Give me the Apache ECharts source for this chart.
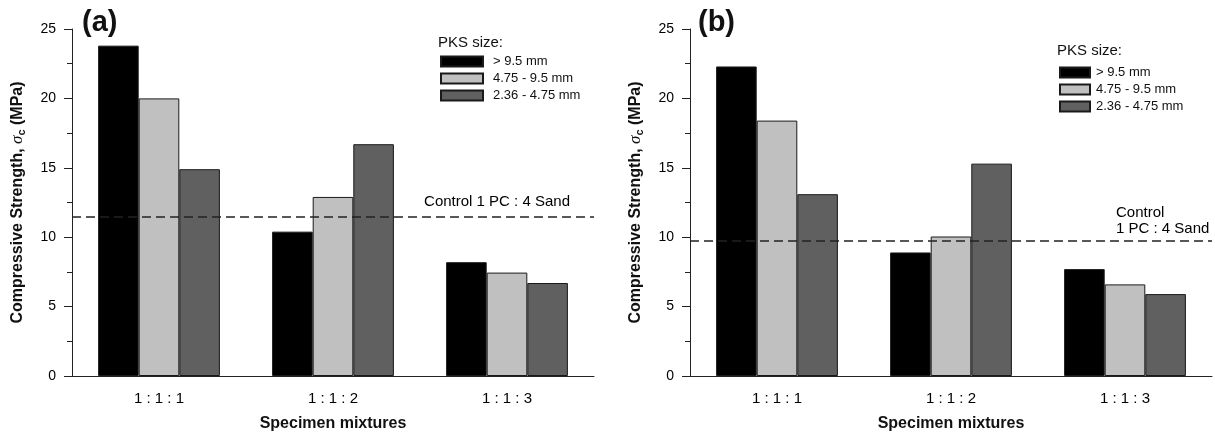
<!DOCTYPE html>
<html><head><meta charset="utf-8">
<script src="https://cdn.jsdelivr.net/npm/echarts@6/dist/echarts.min.js"></script>
<style>html,body{margin:0;padding:0;background:#fff}#c{width:1215px;height:439px}</style>
</head><body><div id="c"></div>
<script>
const categories = ['1 : 1 : 1', '1 : 1 : 2', '1 : 1 : 3'];
const seriesNames = ['> 9.5 mm', '4.75 - 9.5 mm', '2.36 - 4.75 mm'];
const a_big = [23.8, 10.4, 8.2];
const a_mid = [20.0, 12.9, 7.45];
const a_small = [14.9, 16.7, 6.7];
const a_control = 11.5;
const b_big = [22.3, 8.9, 7.7];
const b_mid = [18.4, 10.05, 6.6];
const b_small = [13.1, 15.3, 5.9];
const b_control = 9.75;
const yTicks = { min: 0, max: 25, interval: 5 };

const colors = ['#000000', '#c0c0c0', '#606060'];
const FONT = 'Arial, "Liberation Sans", sans-serif';
const chart = echarts.init(document.getElementById('c'));

function xAxis(gi) {
  return {
    type: 'category', gridIndex: gi, data: categories,
    axisLine: { lineStyle: { color: '#222', width: 1 } },
    axisTick: { alignWithLabel: true, length: 8, lineStyle: { color: '#222' } },
    axisLabel: { color: '#000', fontSize: 15, fontFamily: FONT, margin: 15 },
    name: 'Specimen mixtures', nameLocation: 'middle', nameGap: 40,
    nameTextStyle: { color: '#111', fontSize: 16, fontWeight: 'bold', fontFamily: FONT }
  };
}
function yAxis(gi) {
  return {
    type: 'value', gridIndex: gi, min: yTicks.min, max: yTicks.max, interval: yTicks.interval,
    axisLine: { show: true, lineStyle: { color: '#222', width: 1 } },
    axisTick: { show: true, length: 8, lineStyle: { color: '#222' } },
    minorTick: { show: true, splitNumber: 2, length: 5, lineStyle: { color: '#222' } },
    splitLine: { show: false },
    axisLabel: { color: '#000', fontSize: 14, fontFamily: FONT, margin: 16 },
    name: 'Compressive Strength, {s|σ}{sub|c} (MPa)', nameLocation: 'middle', nameGap: 45,
    nameTextStyle: { color: '#111', fontSize: 16, fontWeight: 'bold', fontFamily: FONT,
      rich: { s: { fontSize: 17, fontStyle: 'italic', fontFamily: 'serif', fontWeight: 'normal', color: '#111' },
              sub: { fontSize: 11, fontFamily: FONT, color: '#111', verticalAlign: 'bottom', padding: [7, 0, 0, 0] } } }
  };
}
function bars(gi, vals, ctrl, labelCfg) {
  return vals.map((v, i) => {
    const s = {
      type: 'bar', name: seriesNames[i], xAxisIndex: gi, yAxisIndex: gi, data: v,
      barGap: '0%', barCategoryGap: '30%',
      itemStyle: { color: colors[i], borderColor: '#1a1a1a', borderWidth: 1 },
      emphasis: { disabled: true }, animation: false
    };
    if (i === 0) {
      s.markLine = {
        silent: true, symbol: 'none', animation: false,
        lineStyle: { type: [9, 5], color: '#222', width: 1.5 },
        data: [{ yAxis: ctrl }],
        label: Object.assign({ show: true, color: '#000', fontSize: 15, fontFamily: FONT, fontWeight: 'normal' }, labelCfg)
      };
    }
    return s;
  });
}

chart.setOption({
  animation: false,
  textStyle: { fontFamily: FONT },
  title: [
    { text: '(a)', left: 82, top: 8, padding: 0, textStyle: { fontSize: 29, fontWeight: 'bold', color: '#111', fontFamily: FONT } },
    { text: '(b)', left: 698, top: 8, padding: 0, textStyle: { fontSize: 29, fontWeight: 'bold', color: '#111', fontFamily: FONT } },
    { text: 'PKS size:', left: 438, top: 35, padding: 0, textStyle: { fontSize: 15, fontWeight: 'normal', color: '#111', fontFamily: FONT } },
    { text: 'PKS size:', left: 1057, top: 43, padding: 0, textStyle: { fontSize: 15, fontWeight: 'normal', color: '#111', fontFamily: FONT } }
  ],
  legend: [
    { orient: 'vertical', left: 440, top: 55, padding: 0, icon: 'rect', itemWidth: 42, itemHeight: 10, itemGap: 4,
      data: seriesNames, textStyle: { fontSize: 13, color: '#111', fontFamily: FONT, padding: [0, 0, 0, 5] },
      selectedMode: false },
    { orient: 'vertical', left: 1059, top: 66, padding: 0, icon: 'rect', itemWidth: 30, itemHeight: 10, itemGap: 4,
      data: seriesNames, textStyle: { fontSize: 13, color: '#111', fontFamily: FONT, padding: [0, 0, 0, 1] },
      selectedMode: false }
  ],
  grid: [
    { left: 72, top: 29, width: 522, height: 347 },
    { left: 690, top: 29, width: 522, height: 347 }
  ],
  xAxis: [xAxis(0), xAxis(1)],
  yAxis: [yAxis(0), yAxis(1)],
  series: [
    ...bars(0, [a_big, a_mid, a_small], a_control,
      { formatter: 'Control 1 PC : 4 Sand', position: 'insideEndTop', distance: [24, 7] }),
    ...bars(1, [b_big, b_mid, b_small], b_control,
      { formatter: 'Control\n1 PC : 4 Sand', position: 'insideEndTop', distance: [96, 4], align: 'left', lineHeight: 16 })
  ]
});
</script></body></html>
